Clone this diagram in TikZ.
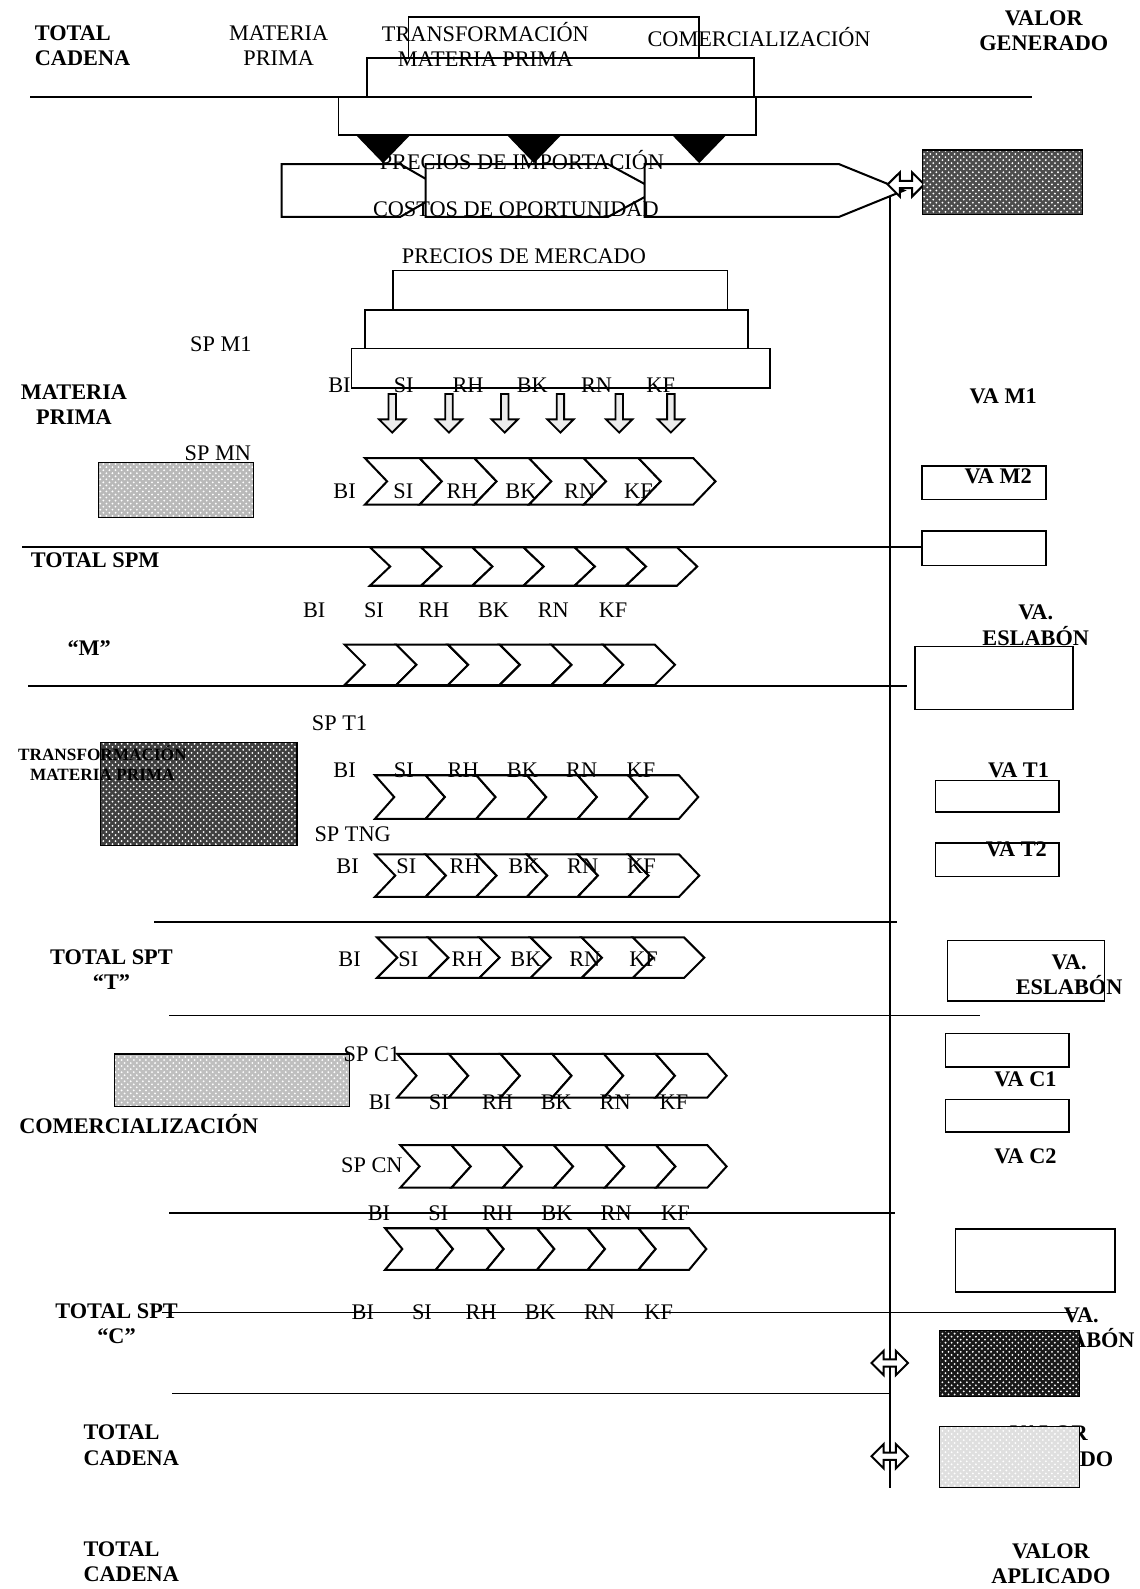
\documentclass[tikz,border=0pt]{standalone}
\usepackage{fontspec}
\setmainfont{Liberation Serif}
\usetikzlibrary{arrows.meta,positioning,fit,calc,shapes.arrows,patterns}
\tikzset{
  every node/.style={font=\fontsize{11}{12.5}\selectfont,inner sep=1pt},
  head/.style={font=\fontsize{11}{12.5}\selectfont\bfseries,align=center},
  lbl/.style={align=center},
  box/.style={draw,line width=0.8pt,fill=white,inner sep=0pt},
  stipple/.style={draw,line width=0.6pt,inner sep=0pt,preaction={fill=#1},pattern=crosshatch dots,pattern color=white},
  chev/.style={draw,line width=1pt,fill=white,line join=miter},
  sepline/.style={draw,line width=0.8pt},
  downarr/.style={single arrow,draw,line width=0.9pt,fill=gray!15,shape border rotate=270,minimum height=19pt,minimum width=13pt,single arrow head extend=2.4pt,inner sep=0.5pt},
  duoarr/.style={double arrow,draw,line width=1pt,fill=white,minimum height=18pt,minimum width=12pt,double arrow head extend=2.4pt,inner sep=0.5pt},
}
% six chevrons: left x, top y, height, step, depth
\newcommand{\chevrow}[5]{%
  \foreach \k in {0,...,5}
    \draw[chev] ({#1+\k*#4},#2) -- ++(#4,0) -- ++(#5,#3/2) -- ++(-#5,#3/2) -- ++(-#4,0) -- ++(#5,-#3/2) -- cycle;
}
% BI ... KF labels: name, first x, y, step
\newcommand{\labrow}[4]{%
  \foreach \t [count=\i from 0] in {BI,SI,RH,BK,RN,KF}
    \node (#1\t) at ({#2+\i*#4},#3) {\t};
}

\begin{document}
\begin{tikzpicture}[x=0.5pt,y=-0.5pt]
\useasboundingbox (0,0) rectangle (1124,1568);

% --- separators and main vertical axis
\foreach \n/\xa/\xb/\y in {top/30/1018/96, spm/22/910/540, mline/28/895/677, tline/152/885/910,
  tend/167/967/1002, cline/167/883/1197, cend/160/1062/1295, chain/170/878/1375}{
  \coordinate (\n-w) at (\xa,\y);
  \coordinate (\n-e) at (\xb,\y);
  \draw[sepline] (\n-w) -- (\n-e);
}
\coordinate (vtop) at (878,193);
\coordinate (vbot) at (878,1468);
\draw[sepline,line width=1pt] (vtop) -- (vbot);

% --- header stack
\node[box,fit={(403,17) (690,70)}] (tb1) {};
\node[box,fit={(362,57) (744,110)}] (tb2) {};
\node[box,fit={(334,96) (746,133)}] (tb3) {};
\foreach \x in {378,527,690}
  \fill (\x-27,133) -- (\x+27,133) -- (\x,161) -- cycle;

\node[head,align=left,anchor=west] (tchead) at (32,45) {TOTAL\\CADENA};
\node[lbl] (mphead) at (275,45) {MATERIA\\PRIMA};
\node[lbl] (trhead) at (479,44) {TRANSFORMACIÓN\\MATERIA PRIMA};
\node (cohead) at (749,37) {COMERCIALIZACIÓN};
\node[head] (vghead) at (1030,30) {VALOR\\GENERADO};

% --- price bands
\draw[chev] (278,162) -- (395,162) -- (440,188) -- (395,214) -- (278,214) -- cycle;
\draw[chev] (420,162) -- (600,162) -- (648,188) -- (600,214) -- (420,214) -- cycle;
\draw[chev] (636,162) -- (828,162) -- (892,188) -- (828,214) -- (636,214) -- cycle;
\node (pimp) at (515,158) {PRECIOS DE IMPORTACIÓN};
\node (copo) at (509,206) {COSTOS DE OPORTUNIDAD};
\node[duoarr] (ga) at (894,182) {};
\node[stipple=black!70,fit={(910,148) (1068,212)}] (vgbox) {};

\node (pmer) at (517,253) {PRECIOS DE MERCADO};
\node[box,fit={(388,267) (718,320)}] (mb1) {};
\node[box,fit={(360,306) (738,355)}] (mb2) {};
\node[box,fit={(347,344) (760,383)}] (mb3) {};
\labrow{pm}{335}{380}{63.4}
\foreach \x [count=\i] in {387,443,498,553,611,662}
  \node[downarr] (dn\i) at (\x,406) {};

% --- materia prima
\node (spm1) at (218,340) {SP M1};
\node[head] (mphd) at (73,399) {MATERIA\\PRIMA};
\node (spmn) at (215,447) {SP MN};
\node[stipple=gray!55,fit={(97,456) (250,511)}] (mnbox) {};
\chevrow{360}{452}{46}{54}{22}
\labrow{mn}{340}{485}{58}
\node[head] (vam1) at (990,391) {VA M1};
\node[box,fit={(910,460) (1032,493)}] (vam2box) {};
\node[head] (vam2) at (985,470) {VA M2};

\node[head,anchor=west] (tspm) at (28,553) {TOTAL SPM};
\chevrow{365}{540}{38}{50.5}{20}
\node[box,fit={(910,524) (1032,558)}] (vaspm) {};
\labrow{sm}{310}{602}{59}
\node[head] (vaesm) at (1022,617) {VA.\\ESLABÓN};
\node[head] (mq) at (88,640) {“M”};
\chevrow{340}{636}{40}{51}{20}
\node[box,fit={(903,638) (1059,700)}] (esmbox) {};

% --- transformacion
\node (spt1) at (335,714) {SP T1};
\node[stipple=black!75,fit={(99,733) (293,834)}] (trbox) {};
\node[head,font=\fontsize{8.5}{10}\selectfont\bfseries] (trlab) at (101,753) {TRANSFORMACIÓN\\MATERIA PRIMA};
\chevrow{370}{765}{43}{50}{19}
\labrow{ta}{340}{760}{58.5}
\node[box,fit={(923,770) (1045,801)}] (vat1box) {};
\node[head] (vat1) at (1005,760) {VA T1};
\node (sptng) at (348,823) {SP TNG};
\chevrow{370}{843}{42}{50}{20}
\labrow{tn}{343}{855}{58}
\node[box,fit={(923,832) (1045,865)}] (vat2box) {};
\node[head] (vat2) at (1003,838) {VA T2};
\node[head] (tspt) at (110,957) {TOTAL SPT\\“T”};
\chevrow{372}{925}{40}{50.5}{20}
\labrow{tt}{345}{947}{58}
\node[box,fit={(935,928) (1090,988)}] (estbox) {};
\node[head] (vaest) at (1055,962) {VA.\\ESLABÓN};

% --- comercializacion
\node[stipple=gray!50,fit={(113,1040) (345,1092)}] (cobox) {};
\node (spc1) at (367,1040) {SP C1};
\chevrow{392}{1040}{43}{51}{19}
\labrow{ca}{375}{1088}{58}
\node[head] (cohd) at (137,1109) {COMERCIALIZACIÓN};
\node[box,fit={(933,1020) (1055,1053)}] (vac1box) {};
\node[head] (vac1) at (1012,1065) {VA C1};
\node[box,fit={(933,1085) (1055,1117)}] (vac2box) {};
\node[head] (vac2) at (1012,1141) {VA C2};
\node (spcn) at (367,1150) {SP CN};
\chevrow{395}{1130}{42}{50.5}{19}
\labrow{cn}{374}{1197}{58.5}
\chevrow{380}{1212}{41}{50}{17}
\node[box,fit={(943,1213) (1100,1275)}] (escbox) {};
\node[head] (tspc) at (115,1306) {TOTAL SPT\\“C”};
\labrow{ct}{358}{1295}{58.4}
\node[head] (vaesc) at (1067,1310) {VA.\\ESLABÓN};
\node[stipple=black!90,fit={(927,1313) (1065,1378)}] (escdark) {};

% --- totals
\node[duoarr] (gb1) at (878,1345) {};
\node[duoarr] (gb2) at (878,1437) {};
\node[head,align=left,anchor=west] (tcmid) at (80,1426) {TOTAL\\CADENA};
\node[head] (vgmid) at (1035,1427) {VALOR\\GENERADO};
\node[stipple=gray!25,fit={(927,1408) (1065,1468)}] (vgfoot) {};
\node[head,align=left,anchor=west] (tcfoot) at (80,1541) {TOTAL\\CADENA};
\node[head] (vafoot) at (1037,1543) {VALOR\\APLICADO};

\end{tikzpicture}
\end{document}
